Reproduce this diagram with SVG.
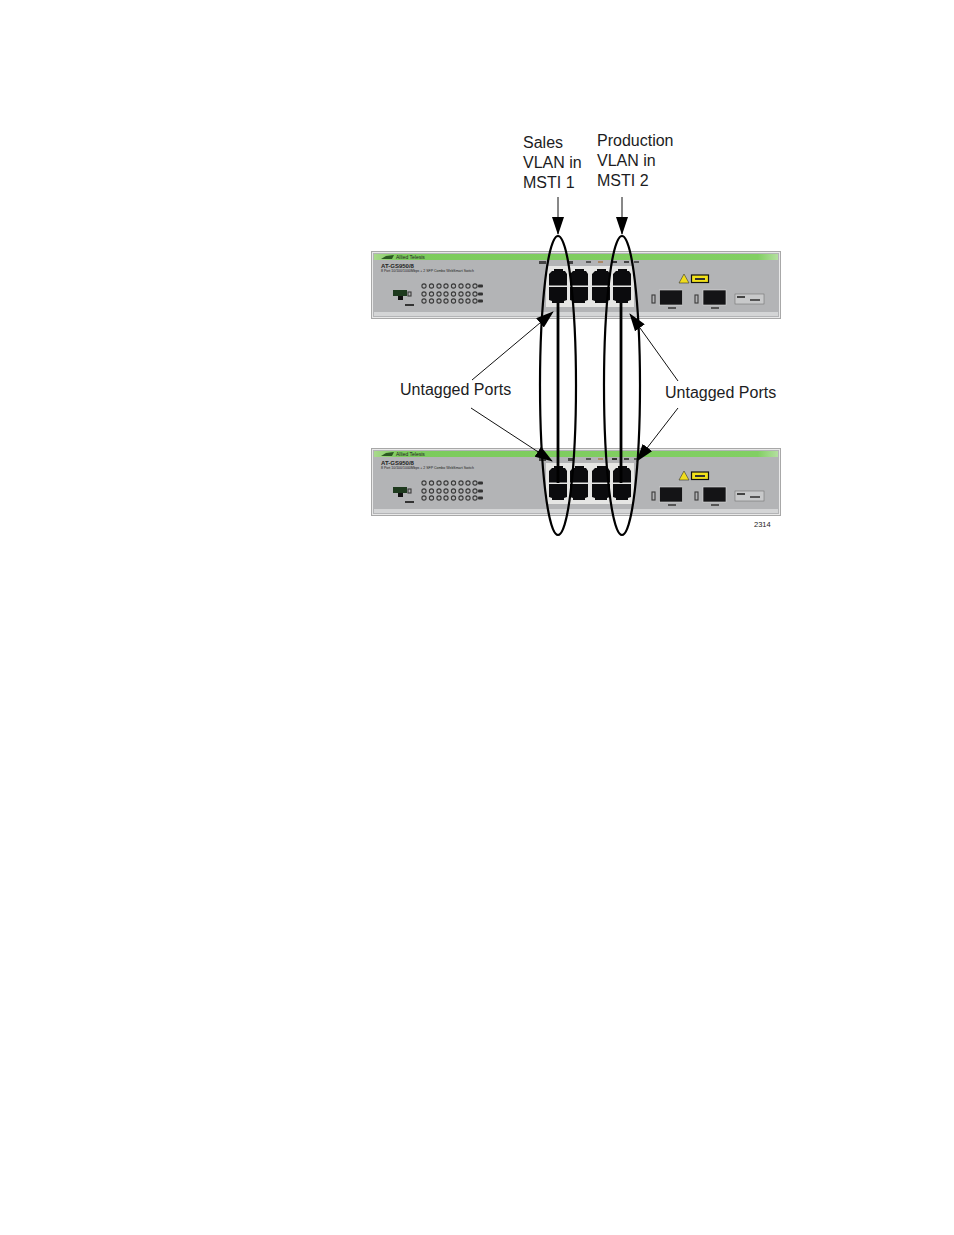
<svg xmlns="http://www.w3.org/2000/svg" xmlns:xlink="http://www.w3.org/1999/xlink" width="954" height="1235" viewBox="0 0 954 1235">
<style>
.lbl{font-family:"Liberation Sans",Arial,sans-serif;font-size:16px;fill:#1c1c22}
.tiny{font-family:"Liberation Sans",Arial,sans-serif;fill:#222}
.led{fill:none;stroke:#3a3a3a;stroke-width:1.100}
.port{fill:#0b0b0d}
.sfp{fill:#141416;stroke:#ddd;stroke-width:.6}
.wire{fill:none;stroke:#000;stroke-width:2.200}
.bar{fill:none;stroke:#000;stroke-width:2.800}
.thin{fill:none;stroke:#111;stroke-width:1}
</style>
<defs>
<linearGradient id="g" x1="0" x2="1" y1="0" y2="0"><stop offset="0" stop-color="#a9d98c"/><stop offset=".06" stop-color="#7ccb5c"/><stop offset=".95" stop-color="#82cf63"/><stop offset="1" stop-color="#b4dfa0"/></linearGradient>
<marker id="big" viewBox="0 0 18 12" refX="17" refY="6" markerWidth="18" markerHeight="12" markerUnits="userSpaceOnUse" orient="auto"><path d="M0 0L18 6L0 12Z" fill="#000"/></marker>
<g id="sw">
<rect x="371.500" y="0.500" width="409" height="67" fill="#e8e8e8" stroke="#a8a8a8"/>
<rect x="373" y="2" width="406" height="64" fill="#b3b4b6"/>
<rect x="374" y="61" width="404" height="4" fill="#d4d5d6"/>
<rect x="374" y="3" width="404" height="6" fill="url(#g)"/>
<path d="M381 8L392 8L394 4L386 5Z" fill="#2c5a22"/>
<text class="tiny" x="396" y="8" font-size="5">Allied Telesis</text>
<text class="tiny" x="381" y="17" font-size="6" font-weight="bold">AT-GS950/8</text>
<text class="tiny" x="381" y="21" font-size="3.500">8 Port 10/100/1000Mbps + 2 SFP Combo WebSmart Switch</text>
<rect x="393" y="39" width="14" height="6" fill="#1e3a1e"/><rect x="398" y="45" width="5" height="4" fill="#111"/><rect x="408" y="41" width="3" height="4" class="led"/><rect x="405" y="53" width="9" height="2" fill="#333"/>
<g id="leds">
<circle class="led" cx="424" cy="35" r="2.100"/><circle class="led" cx="431.500" cy="35" r="2.100"/><circle class="led" cx="439" cy="35" r="2.100"/><circle class="led" cx="446" cy="35" r="2.100"/><circle class="led" cx="453.500" cy="35" r="2.100"/><circle class="led" cx="461" cy="35" r="2.100"/><circle class="led" cx="468" cy="35" r="2.100"/><circle class="led" cx="475" cy="35" r="2.100"/>
<circle class="led" cx="424" cy="43" r="2.100"/><circle class="led" cx="431.500" cy="43" r="2.100"/><circle class="led" cx="439" cy="43" r="2.100"/><circle class="led" cx="446" cy="43" r="2.100"/><circle class="led" cx="453.500" cy="43" r="2.100"/><circle class="led" cx="461" cy="43" r="2.100"/><circle class="led" cx="468" cy="43" r="2.100"/><circle class="led" cx="475" cy="43" r="2.100"/>
<circle class="led" cx="424" cy="50" r="2.100"/><circle class="led" cx="431.500" cy="50" r="2.100"/><circle class="led" cx="439" cy="50" r="2.100"/><circle class="led" cx="446" cy="50" r="2.100"/><circle class="led" cx="453.500" cy="50" r="2.100"/><circle class="led" cx="461" cy="50" r="2.100"/><circle class="led" cx="468" cy="50" r="2.100"/><circle class="led" cx="475" cy="50" r="2.100"/>
<rect x="478" y="33.500" width="5" height="3" rx="1" fill="#333"/><rect x="478" y="41.500" width="5" height="3" rx="1" fill="#333"/><rect x="478" y="48.500" width="5" height="3" rx="1" fill="#333"/>
</g>
<rect x="546" y="15" width="88" height="41" fill="#e6e6e4"/>
<g id="ports">
<path class="port" d="M552 20h2v-2h9v2h2l2 3v11.500h-18v-11.500z"/><path class="port" d="M549 36h18v13l-3 1v2h-12v-2l-3-1z"/>
<path class="port" d="M573 20h2v-2h9v2h2l2 3v11.500h-18v-11.500z"/><path class="port" d="M570 36h18v13l-3 1v2h-12v-2l-3-1z"/>
<path class="port" d="M595 20h2v-2h9v2h2l2 3v11.500h-18v-11.500z"/><path class="port" d="M592 36h18v13l-3 1v2h-12v-2l-3-1z"/>
<path class="port" d="M616 20h2v-2h9v2h2l2 3v11.500h-18v-11.500z"/><path class="port" d="M613 36h18v13l-3 1v2h-12v-2l-3-1z"/>
</g>
<rect x="568" y="10" width="5" height="3" fill="#444"/><rect x="586" y="10" width="5" height="2" fill="#555"/><rect x="598" y="10" width="5" height="2" fill="#a86"/><rect x="612" y="10" width="5" height="2" fill="#333"/><rect x="624" y="10" width="5" height="2" fill="#444"/><rect x="539" y="10" width="7" height="3" fill="#444"/><rect x="634" y="10" width="5" height="2" fill="#555"/>
<path d="M684 23l-5 9h10z" fill="#f0dc1c" stroke="#333" stroke-width=".6"/>
<rect x="691.500" y="24" width="17" height="7.500" fill="#f2e21a" stroke="#111" stroke-width="1.200"/><rect x="695" y="27" width="10" height="2" fill="#333"/>
<rect class="sfp" x="659.500" y="39" width="23" height="15"/><rect class="sfp" x="703" y="39" width="23" height="15"/>
<rect x="652" y="44" width="3" height="8" class="led" stroke-width=".6"/><rect x="695" y="44" width="3" height="8" class="led" stroke-width=".6"/>
<rect x="668" y="56" width="8" height="2" fill="#555"/><rect x="711" y="56" width="8" height="2" fill="#555"/>
<rect x="735" y="43" width="29" height="10" fill="#c8c9ca" stroke="#666" stroke-width=".5"/><rect x="737" y="45" width="8" height="2" fill="#444"/><rect x="750" y="48" width="10" height="2" fill="#555"/>
</g>
</defs>
<g id="switch-1"><use href="#sw" xlink:href="#sw" x="0" y="251"/></g>
<g id="switch-2"><use href="#sw" xlink:href="#sw" x="0" y="448"/></g>
<g id="connectors">
<ellipse id="msti-1-loop" class="wire" cx="558" cy="385.500" rx="18" ry="149.500"/>
<ellipse id="msti-2-loop" class="wire" cx="622" cy="385.500" rx="18" ry="149.500"/>
<path class="bar" d="M558 303V483"/>
<path class="bar" d="M621 303V483"/>
<path class="thin" marker-end="url(#big)" d="M558 197V234"/>
<path class="thin" marker-end="url(#big)" d="M622 197V234"/>
<path class="thin" marker-end="url(#big)" d="M472 380L553 312"/>
<path class="thin" marker-end="url(#big)" d="M471 408L552 461"/>
<path class="thin" marker-end="url(#big)" d="M678 381L630 314"/>
<path class="thin" marker-end="url(#big)" d="M678 408L637 461"/>
</g>
<g id="label-sales"><text class="lbl" x="523" y="148">Sales</text><text class="lbl" x="523" y="168">VLAN in</text><text class="lbl" x="523" y="188">MSTI 1</text></g>
<g id="label-production"><text class="lbl" x="597" y="146">Production</text><text class="lbl" x="597" y="166">VLAN in</text><text class="lbl" x="597" y="186">MSTI 2</text></g>
<g id="label-untagged-1"><text class="lbl" x="400" y="395">Untagged Ports</text></g>
<g id="label-untagged-2"><text class="lbl" x="665" y="398">Untagged Ports</text></g>
<text class="tiny" x="754" y="527" font-size="7.500">2314</text>
</svg>
